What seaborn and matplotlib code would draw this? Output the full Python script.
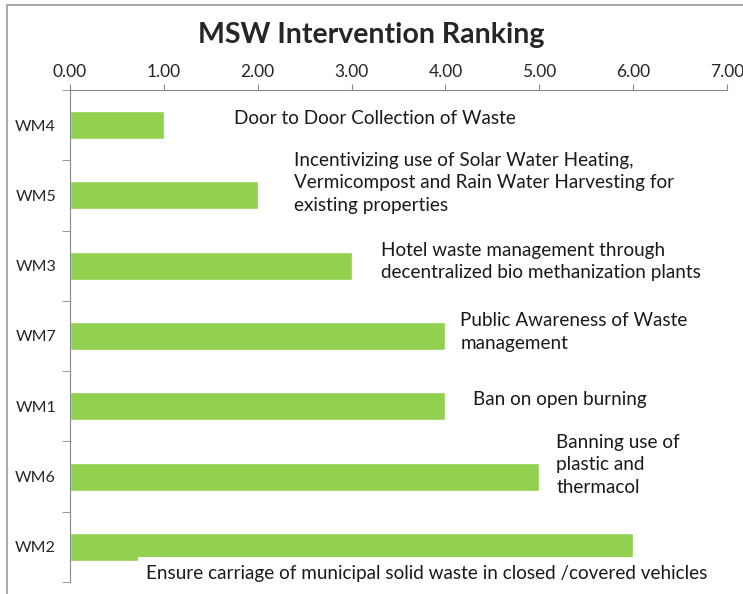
import matplotlib
matplotlib.use("Agg")
import matplotlib.pyplot as plt
import seaborn as sns
import pandas as pd
from matplotlib.patches import Rectangle

# --- data ---
codes = ["WM4", "WM5", "WM3", "WM7", "WM1", "WM6", "WM2"]
scores = [1, 2, 3, 4, 4, 5, 6]
notes = [
    "Door to Door Collection of Waste",
    "Incentivizing use of Solar Water Heating,\nVermicompost and Rain Water Harvesting for\nexisting properties",
    "Hotel waste management through\ndecentralized bio methanization plants",
    "Public Awareness of Waste\nmanagement",
    "Ban on open burning",
    "Banning use of\nplastic and\nthermacol",
    "Ensure carriage of municipal solid waste in closed /covered vehicles",
]
note_x = [1.75, 2.39, 3.31, 4.16, 4.29, 5.18, 0.81]
note_dy = [-0.1, -0.18, -0.06, -0.06, -0.1, -0.17, 0.38]

df = pd.DataFrame({"code": codes, "score": scores})

sns.set_style("white")
plt.rcParams["font.family"] = ["Lato", "DejaVu Sans"]

fig = plt.figure(figsize=(7.43, 5.94), dpi=100)
ax = fig.add_axes([0.0942, 0.0202, 0.8843, 0.8283])

sns.barplot(data=df, x="score", y="code", orient="h", color="#92D050",
            saturation=1, width=0.4, ax=ax)

ax.set_xlim(0, 7)
ax.set_ylim(6.5, -0.5)
ax.xaxis.tick_top()
ax.set_xticks(range(0, 8))
ax.set_xticklabels([f"{v:.2f}" for v in range(0, 8)], fontsize=12.5)
ax.tick_params(axis="x", length=4, color="#888888", pad=3)
ax.set_yticks(range(len(codes)))
ax.set_yticklabels(codes, fontsize=11.5)
ax.tick_params(axis="y", which="major", length=0, pad=10)
ax.set_yticks([i + 0.5 for i in range(-1, len(codes))], minor=True)
ax.tick_params(axis="y", which="minor", length=6, color="#888888", left=True)
ax.set_xlabel("")
ax.set_ylabel("")
for side in ["right", "bottom"]:
    ax.spines[side].set_visible(False)
for side in ["top", "left"]:
    ax.spines[side].set_color("#888888")

for i, txt in enumerate(notes):
    kw = {}
    if i == len(notes) - 1:
        kw["bbox"] = dict(facecolor="white", edgecolor="none", pad=6)
    ax.text(note_x[i], i + note_dy[i], txt, fontsize=13.6, va="center", ha="left",
            linespacing=1.4, color="#1a1a1a", **kw)

fig.suptitle("MSW Intervention Ranking", fontsize=20.5, fontweight="bold",
             y=0.941, va="center")

# outer chart frame (right and bottom edges fall outside the image)
fig.patches.append(Rectangle((0.0094, -0.1), 1.2, 1.0916, transform=fig.transFigure,
                             fill=False, edgecolor="#999999", linewidth=1.2))

fig.savefig("out.png", dpi=100)
